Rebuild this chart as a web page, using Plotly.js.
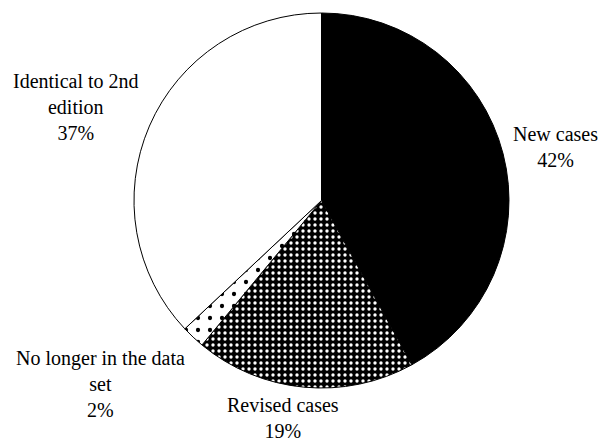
<!DOCTYPE html>
<html>
<head>
<meta charset="utf-8">
<script src="https://cdn.plot.ly/plotly-3.0.1.min.js"></script>
<style>html,body{margin:0;padding:0;background:#fff;}#chart{width:600px;height:443px;}</style>
</head>
<body>
<div id="chart"></div>
<script>
// Data
const categories = ["New cases", "Revised cases", "No longer in the data set", "Identical to 2nd edition"];
const displayLabels = ["New cases", "Revised cases", "No longer in the data<br>set", "Identical to 2nd<br>edition"];
const shares = [42, 19, 2, 37];

// Styling (not data)
const sliceColors = ["#000000", "#000000", "#ffffff", "#ffffff"];
const patShapes = ["", ".", ".", ""];
const patFg = ["#000000", "#ffffff", "#000000", "#000000"];
const patBg = ["#000000", "#000000", "#ffffff", "#ffffff"];
const patSize = [8, 6, 12, 8];
const patSolid = [0.3, 0.25, 0.1, 0.3];
// label positions in pixels (x center, y center from top)
const labelPos = [[555, 147], [283, 418], [100, 384], [75.5, 107]];

const W = 600, H = 443;
const cx = 321.5, cy = 200.5, r = 187.5;

const trace = {
  type: "pie",
  labels: categories,
  values: shares,
  sort: false,
  direction: "clockwise",
  rotation: 0,
  textinfo: "none",
  hoverinfo: "label+percent",
  marker: {
    colors: sliceColors,
    line: {color: "#000000", width: 1},
    pattern: {shape: patShapes, fgcolor: patFg, bgcolor: patBg, size: patSize, solidity: patSolid, fillmode: "replace"}
  },
  domain: {x: [(cx - r) / W, (cx + r) / W], y: [(H - cy - r) / H, (H - cy + r) / H]}
};

const annotations = categories.map((c, i) => ({
  text: displayLabels[i] + "<br>" + shares[i] + "%",
  x: labelPos[i][0] / W,
  y: 1 - labelPos[i][1] / H,
  xref: "paper", yref: "paper",
  xanchor: "center", yanchor: "middle",
  showarrow: false,
  align: "center",
  font: {family: "Liberation Serif, Times New Roman, serif", size: 20, color: "#000000"}
}));

const layout = {
  width: W, height: H,
  margin: {l: 0, r: 0, t: 0, b: 0},
  paper_bgcolor: "#ffffff",
  plot_bgcolor: "#ffffff",
  showlegend: false,
  annotations: annotations
};

Plotly.newPlot("chart", [trace], layout, {displayModeBar: false, staticPlot: true});
</script>
</body>
</html>
